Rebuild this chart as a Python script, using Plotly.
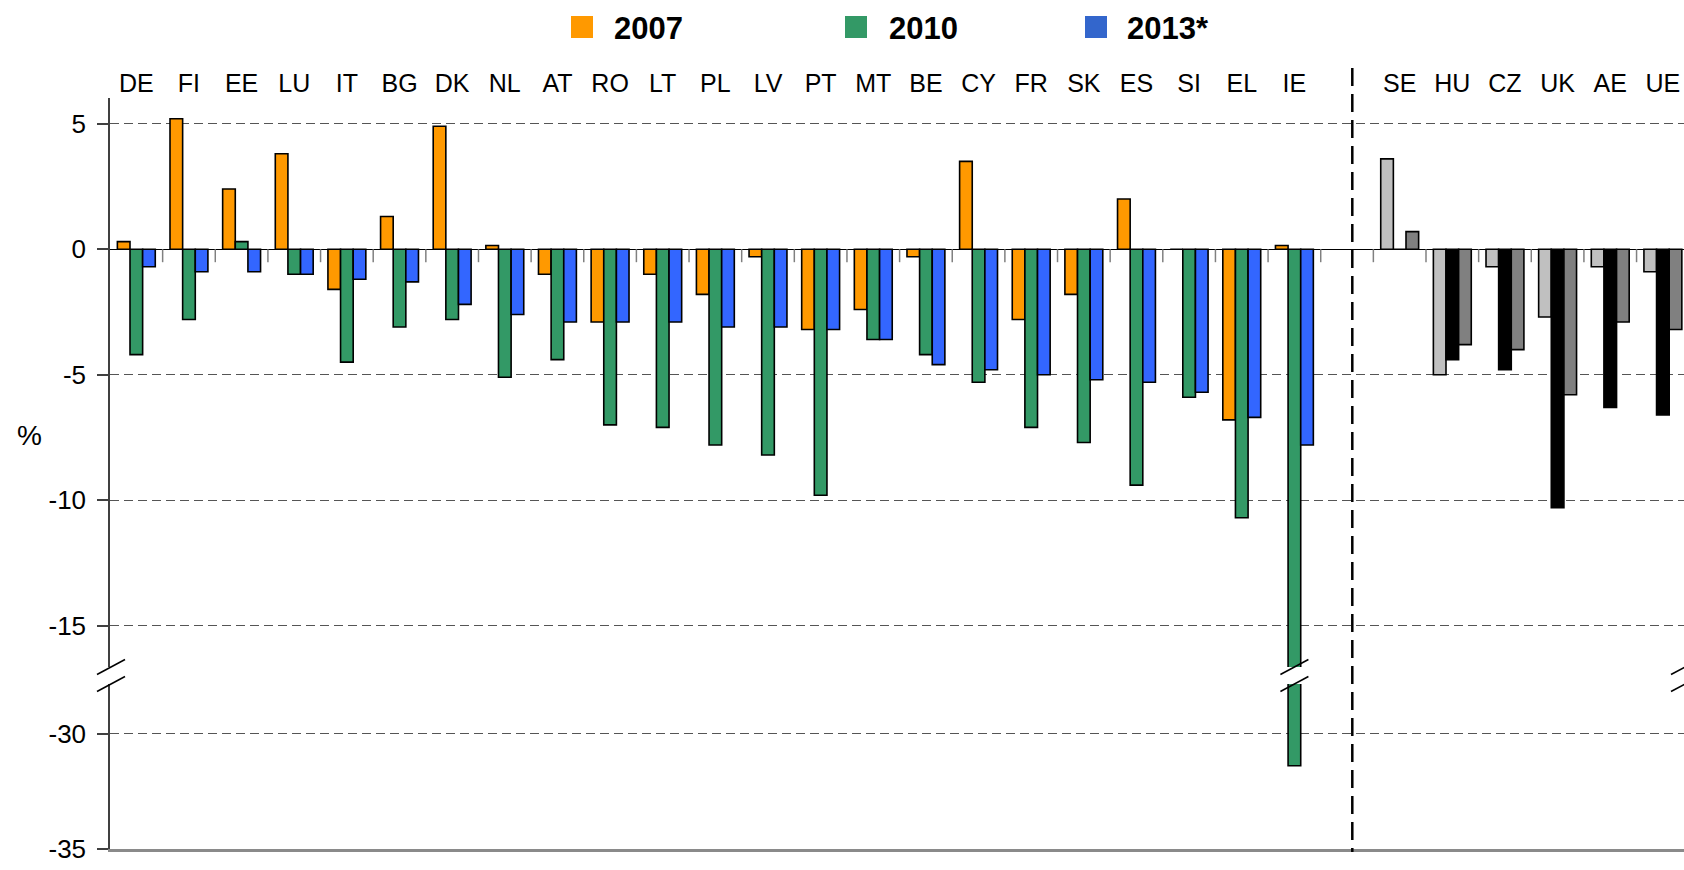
import plotly.graph_objects as go

# ---------------- data ----------------
countries_left = ["DE", "FI", "EE", "LU", "IT", "BG", "DK", "NL", "AT", "RO", "LT", "PL",
                  "LV", "PT", "MT", "BE", "CY", "FR", "SK", "ES", "SI", "EL", "IE"]
countries_right = ["SE", "HU", "CZ", "UK", "AE", "UE"]

v2007_left = [0.3, 5.2, 2.4, 3.8, -1.6, 1.3, 4.9, 0.15, -1.0, -2.9, -1.0, -1.8,
              -0.3, -3.2, -2.4, -0.3, 3.5, -2.8, -1.8, 2.0, 0.0, -6.8, 0.15]
v2010_left = [-4.2, -2.8, 0.3, -1.0, -4.5, -3.1, -2.8, -5.1, -4.4, -7.0, -7.1, -7.8,
              -8.2, -9.8, -3.6, -4.2, -5.3, -7.1, -7.7, -9.4, -5.9, -10.7, -31.4]
v2013_left = [-0.7, -0.9, -0.9, -1.0, -1.2, -1.3, -2.2, -2.6, -2.9, -2.9, -2.9, -3.1,
              -3.1, -3.2, -3.6, -4.6, -4.8, -5.0, -5.2, -5.3, -5.7, -6.7, -7.8]

v2007_right = [3.6, -5.0, -0.7, -2.7, -0.7, -0.9]
v2010_right = [0.0, -4.4, -4.8, -10.3, -6.3, -6.6]
v2013_right = [0.7, -3.8, -4.0, -5.8, -2.9, -3.2]

years = ["2007", "2010", "2013*"]
colors_left = ["#FF9900", "#339966", "#3366FF"]
colors_right = ["#C0C0C0", "#000000", "#808080"]
legend_colors = ["#FF9900", "#339966", "#3366CC"]

upper_ticks = [5, 0, -5, -10, -15]
lower_ticks = [-30, -35]

# ---------------- layout helpers ----------------
W, H = 1684, 870
L, R = 110, 0
FONT = "Arial, 'Liberation Sans', sans-serif"


def py(px):  # pixel row -> paper y
    return 1 - px / H


def pxx(px):  # pixel column -> paper x
    return (px - L) / (W - L - R)


categories = countries_left + [""] + countries_right
xpos = list(range(len(categories)))
gap_index = len(countries_left)

series_left = [v2007_left, v2010_left, v2013_left]
series_right = [v2007_right, v2010_right, v2013_right]

fig = go.Figure()
for yref_axis, xref_axis in [("y", "x"), ("y2", "x2")]:
    for i, name in enumerate(years):
        vals = series_left[i] + [None] + series_right[i]
        cols = [colors_left[i]] * len(countries_left) + ["white"] + [colors_right[i]] * len(countries_right)
        fig.add_trace(go.Bar(
            x=xpos, y=vals, name=name, offsetgroup=str(i),
            marker=dict(color=cols, line=dict(color="black", width=1.6)),
            xaxis=xref_axis, yaxis=yref_axis, showlegend=False,
        ))

# axis geometry (pixels)
top_px, brk1_px, brk2_px, bot_px = 98, 667, 684, 848.5
zero_px, upx_per_unit = 249.2, 25.1
low_px_per_unit = 23.0
up_top = (zero_px - top_px) / upx_per_unit
up_bot = -(brk1_px - zero_px) / upx_per_unit
low_top = -35 + (bot_px - brk2_px) / low_px_per_unit
slot_px = 52.64
xr = [-0.5, -0.5 + (W - L - R) / slot_px]

grid_common = dict(showgrid=True, gridcolor="#555555", griddash="9px,5px", gridwidth=1,
                   ticks="outside", ticklen=11, tickcolor="#404040", tickwidth=1.5,
                   ticklabelstandoff=6,
                   showline=True, linecolor="#404040", linewidth=1.5,
                   tickfont=dict(family=FONT, size=26, color="black"))

fig.update_layout(
    width=W, height=H, plot_bgcolor="white", paper_bgcolor="white",
    margin=dict(l=L, r=R, t=0, b=0),
    barmode="group", bargap=0.28, bargroupgap=0,
    xaxis=dict(domain=[0, 1], anchor="y", side="top", range=xr,
               tickvals=xpos, ticktext=categories, ticks="", showline=False,
               showgrid=False, zeroline=False, automargin=False,
               tickfont=dict(family=FONT, size=25, color="black")),
    xaxis2=dict(domain=[0, 1], anchor="y2", matches="x", range=xr,
                showticklabels=False, ticks="", showgrid=False, zeroline=False,
                showline=True, linecolor="#8a8a8a", linewidth=3, automargin=False),
    yaxis=dict(domain=[py(brk1_px), py(top_px)], range=[up_bot, up_top],
               tickvals=upper_ticks, ticktext=[str(v) for v in upper_ticks],
               zeroline=True, zerolinecolor="black", zerolinewidth=1,
               automargin=False, **grid_common),
    yaxis2=dict(domain=[py(bot_px), py(brk2_px)], range=[-35, low_top],
                tickvals=lower_ticks, ticktext=[str(v) for v in lower_ticks],
                zeroline=False, automargin=False, **grid_common),
    font=dict(family=FONT, color="black"),
)

shapes = []
# category separator ticks below the zero line
for k in range(1, len(categories) + 1):
    shapes.append(dict(type="line", xref="x", yref="y", x0=k - 0.5, x1=k - 0.5,
                       y0=0, y1=-13 / upx_per_unit, line=dict(color="#808080", width=1.5)))

# vertical dashed separator between the two groups
shapes.append(dict(type="line", xref="x", yref="paper", x0=gap_index + 0.1, x1=gap_index + 0.1,
                   y0=py(68), y1=py(852), line=dict(color="black", width=2.5, dash="18px,8px")))


# axis-break slashes (left axis, IE bar, right edge)
def slashes(xref, xc, half_w):
    out = []
    for yc in (brk1_px, brk2_px):
        out.append(dict(type="line", xref=xref, yref="paper",
                        x0=xc - half_w, x1=xc + half_w, y0=py(yc + 7.5), y1=py(yc - 7.5),
                        line=dict(color="black", width=1.5)))
    return out


shapes += slashes("paper", pxx(L + 1), 14 / (W - L - R))
shapes += slashes("x", gap_index - 1, 14 / slot_px)
shapes += slashes("paper", pxx(W + 1), 14 / (W - L - R))

# legend boxes
legend_sq_px = [571, 845, 1085]
legend_txt_px = [612, 887, 1125]
annotations = []
for i, name in enumerate(years):
    shapes.append(dict(type="rect", xref="paper", yref="paper",
                       x0=pxx(legend_sq_px[i]), x1=pxx(legend_sq_px[i] + 22),
                       y0=py(38), y1=py(16), fillcolor=legend_colors[i], line=dict(width=0)))
    annotations.append(dict(xref="paper", yref="paper", x=pxx(legend_txt_px[i]), y=py(28),
                            xanchor="left", yanchor="middle", showarrow=False, text=f"<b>{name}</b>",
                            font=dict(family=FONT, size=31, color="black")))

annotations.append(dict(xref="paper", yref="paper", x=pxx(29), y=py(435), xanchor="center",
                        yanchor="middle", showarrow=False, text="%",
                        font=dict(family=FONT, size=28, color="black")))

fig.update_layout(shapes=shapes, annotations=annotations)
fig.write_html("out.html", config={"displayModeBar": False},
               post_script="document.body.style.margin='0px';document.body.style.overflow='hidden';")
